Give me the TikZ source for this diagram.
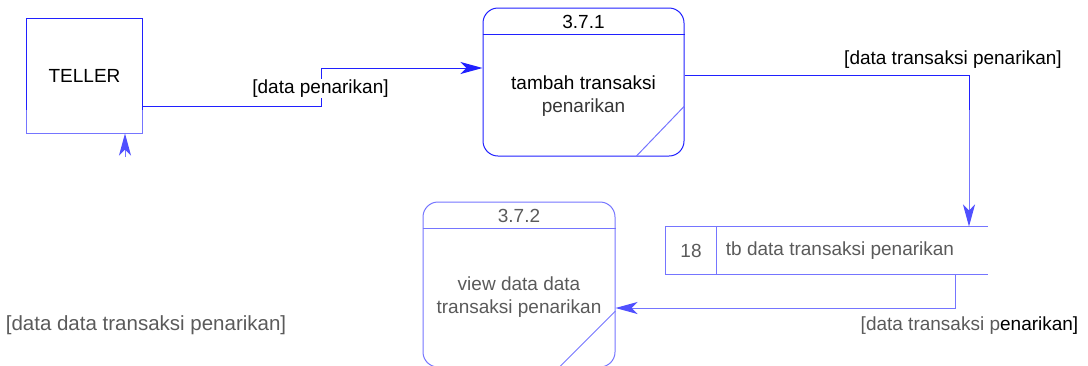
\documentclass[tikz,border=0pt]{standalone}
\usepackage{fontspec}
\setmainfont{Liberation Sans}
\usetikzlibrary{arrows.meta}
\definecolor{dblue}{HTML}{2020FF}
\definecolor{lblue}{HTML}{7575FF}
\definecolor{mblue}{HTML}{5050FF}
\definecolor{gtext}{HTML}{5A5A5A}
\begin{document}
\begin{tikzpicture}[x=1pt,y=-1pt,
  font=\fontsize{19}{23}\selectfont,
  line width=1pt,
  tipd/.style={-{Stealth[length=22pt,width=12pt,inset=6pt]}},
  tipl/.style={-{Stealth[length=22pt,width=12pt,inset=6pt,color=mblue]}},
  lbl/.style={inner sep=1pt},
  proc/.style={rounded corners=15pt, inner sep=0}]
\useasboundingbox (0,0) rectangle (1088,365);
\clip (0,0) rectangle (1088,365);

% TELLER
\node[minimum width=115pt, minimum height=114pt, inner sep=0] (teller) at (84.5,76) {TELLER};
\coordinate (tcut) at (0,110);
\draw[dblue] (teller.west |- tcut) -- (teller.north west) -- (teller.north east) -- (teller.east |- tcut);
\draw[lblue] (teller.west |- tcut) -- (teller.south west) -- (teller.south east) -- (teller.east |- tcut);
\coordinate (t0) at (125,157);
\draw[lblue, tipl] (t0) -- (t0 |- teller.south);

% Process 3.7.1
\node[proc, draw=dblue, minimum width=201pt, minimum height=148pt] (p1) at (583.5,82) {};
\coordinate (h1) at (0,34);
\draw[dblue] (p1.west |- h1) -- (p1.east |- h1);
\node (p1id) at (583.5,22) {3.7.1};
\node[align=center] (p1txt) at (583.5,96.5) {tambah transaksi\\\textcolor{gtext!60!black}{penarikan}};
\coordinate (d1) at (0,106);
\coordinate (d1b) at (636,0);
\draw[lblue] (p1.east |- d1) -- (d1b |- p1.south);

% Connector TELLER -> 3.7.1
\coordinate (c1) at (321,106);
\coordinate (c1b) at (321,68);
\draw[dblue, tipd] (c1 -| teller.east) -- (c1) -- (c1b) -- (c1b -| p1.west);
\node[lbl, fill=white] (l1) at (320.5,88.5) {[data penarikan]};

% Store
\node[minimum width=321pt, minimum height=47pt, inner sep=0] (store) at (826.5,250.5) {};
\coordinate (sd) at (716,0);
\draw[lblue] (store.north east) -- (store.north west) -- (store.south west) -- (store.south east);
\draw[lblue] (sd |- store.north) -- (sd |- store.south);
\node[text=gtext] (sid) at (691,251) {18};
\node[text=gtext] (sname) at (840,251) {tb data transaksi penarikan};

% Connector 3.7.1 -> store
\coordinate (c2) at (969,75);
\coordinate (c2b) at (969,110);
\draw[dblue] (c2 -| p1.east) -- (c2) -- (c2b);
\draw[lblue, tipl] (c2b) -- (c2 |- store.north);
\node[lbl] (l2) at (953,60) {[data transaksi penarikan]};

% Process 3.7.2
\node[proc, draw=lblue, minimum width=192pt, minimum height=165pt] (p2) at (519,284.5) {};
\coordinate (h2) at (0,228);
\draw[lblue] (p2.west |- h2) -- (p2.east |- h2);
\node[text=gtext] (p2id) at (519,216) {3.7.2};
\node[text=gtext, align=center] (p2txt) at (519,297.5) {view data data\\transaksi penarikan};
\coordinate (d2) at (0,311);
\coordinate (d2b) at (559,0);
\draw[lblue] (p2.east |- d2) -- (d2b |- p2.south);

% Connector store -> 3.7.2
\coordinate (c3) at (955,308);
\draw[lblue, tipl] (c3 |- store.south) -- (c3) -- (c3 -| p2.east);
\node[lbl] (l3) at (969.5,326) {{\color{gtext}[data transaksi p}enarikan]};

% Left label
\node[lbl, text=gtext, font=\fontsize{20.5}{24}\selectfont] (l4) at (146,325) {[data data transaksi penarikan]};
\end{tikzpicture}
\end{document}
